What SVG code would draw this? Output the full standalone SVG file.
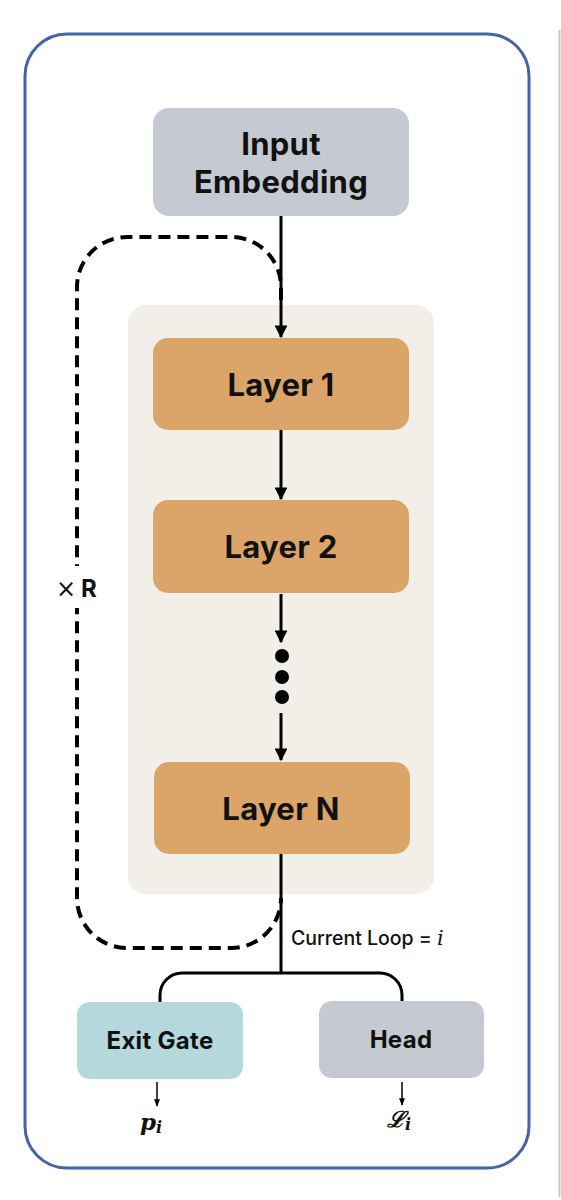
<svg xmlns="http://www.w3.org/2000/svg" width="561" height="1200" viewBox="0 0 561 1200">
<defs>
<marker id="ah" viewBox="0 0 10 10" refX="9" refY="5" markerWidth="4.3" markerHeight="4.3" orient="auto" markerUnits="strokeWidth">
<path d="M0,0 L10,5 L0,10 z" fill="#000"/>
</marker>
<marker id="ahs" viewBox="0 0 10 10" refX="9" refY="5" markerWidth="5" markerHeight="5" orient="auto" markerUnits="strokeWidth">
<path d="M0,1 L10,5 L0,9 z" fill="#000"/>
</marker>
</defs>
<style>
.lbl{font-family:Inter,"Liberation Sans",sans-serif;font-weight:700;fill:#111;text-anchor:middle}
.big{font-size:31px;letter-spacing:0.3px}
.mid{font-size:24px;letter-spacing:0.3px}
.conn{stroke:#000;stroke-width:3;fill:none}
.thin{stroke:#000;stroke-width:1.5;fill:none}
.dash{stroke:#000;stroke-width:4;fill:none;stroke-dasharray:12 7}
.math{font-family:"DejaVu Serif","Liberation Serif",serif;font-style:italic;fill:#111}
</style>
<rect width="561" height="1200" fill="#fff"/>
<line x1="559.5" y1="30" x2="559.5" y2="1197" stroke="#c9c9c9" stroke-width="2"/>
<rect x="25" y="34" width="504" height="1134" rx="42" fill="#fff" stroke="#4463a9" stroke-width="3"/>
<rect id="loop-container" x="128" y="305" width="306" height="589" rx="18" fill="#f1efe8"/>

<g id="connectors">
<path class="dash" d="M281 300 L281 287 A50 50 0 0 0 231 237 L127 237 A50 50 0 0 0 77 287 L77 898 A50 50 0 0 0 127 948 L231 948 A50 50 0 0 0 281 898"/>
<line class="conn" x1="281" y1="216" x2="281" y2="337" marker-end="url(#ah)"/>
<line class="conn" x1="281" y1="430" x2="281" y2="499" marker-end="url(#ah)"/>
<line class="conn" x1="281" y1="594" x2="281" y2="642" marker-end="url(#ah)"/>
<line class="conn" x1="281" y1="713" x2="281" y2="760" marker-end="url(#ah)"/>
<path class="conn" d="M281 854 L281 973"/>
<path class="conn" d="M160 1003 L160 995 A22 22 0 0 1 182 973 L380 973 A22 22 0 0 1 402 995 L402 1002"/>
<line class="thin" x1="157" y1="1082" x2="157" y2="1106" marker-end="url(#ahs)"/>
<line class="thin" x1="402" y1="1082" x2="402" y2="1105" marker-end="url(#ahs)"/>
</g>

<g id="dots">
<circle cx="282" cy="656" r="7" fill="#000"/>
<circle cx="282" cy="677" r="7" fill="#000"/>
<circle cx="282" cy="697" r="7" fill="#000"/>
</g>

<g id="input-embedding">
<rect x="153" y="108" width="256" height="108" rx="16" fill="#c5c9d1"/>
<text class="lbl big" x="281" y="155">Input</text>
<text class="lbl big" x="281" y="193">Embedding</text>
</g>
<g id="layer1">
<rect x="153" y="338" width="256" height="92" rx="15" fill="#dba468"/>
<text class="lbl big" x="281" y="396">Layer 1</text>
</g>
<g id="layer2">
<rect x="153" y="500" width="256" height="93" rx="15" fill="#dba468"/>
<text class="lbl big" x="281" y="558">Layer 2</text>
</g>
<g id="layerN">
<rect x="154" y="762" width="256" height="92" rx="15" fill="#dba468"/>
<text class="lbl big" x="281" y="820">Layer N</text>
</g>
<g id="exit-gate">
<rect x="77" y="1002" width="166" height="77" rx="13" fill="#b5d8dc"/>
<text class="lbl mid" x="160" y="1049">Exit Gate</text>
</g>
<g id="head">
<rect x="319" y="1001" width="165" height="77" rx="13" fill="#c5c9d1"/>
<text class="lbl mid" x="401" y="1048">Head</text>
</g>

<g id="repeat-label">
<rect x="54" y="566" width="48" height="42" fill="#fff"/>
<text x="56" y="597" font-family="DejaVu Sans,sans-serif" font-size="24" fill="#111">×</text>
<text x="81" y="597" font-family="Inter,'Liberation Sans',sans-serif" font-weight="700" font-size="24" fill="#111">R</text>
</g>
<g id="loop-label">
<text x="291" y="945" font-family="Inter,'Liberation Sans',sans-serif" font-weight="500" font-size="19.5" fill="#111">Current Loop = <tspan class="math" font-size="21">i</tspan></text>
</g>
<g id="outputs">
<text class="math" x="140" y="1130" font-size="23" font-weight="700">p<tspan font-size="16" dy="3">i</tspan></text>
<text class="math" x="387" y="1127" font-size="22" font-weight="700">ℒ<tspan font-size="16" dy="3">i</tspan></text>
</g>
</svg>
